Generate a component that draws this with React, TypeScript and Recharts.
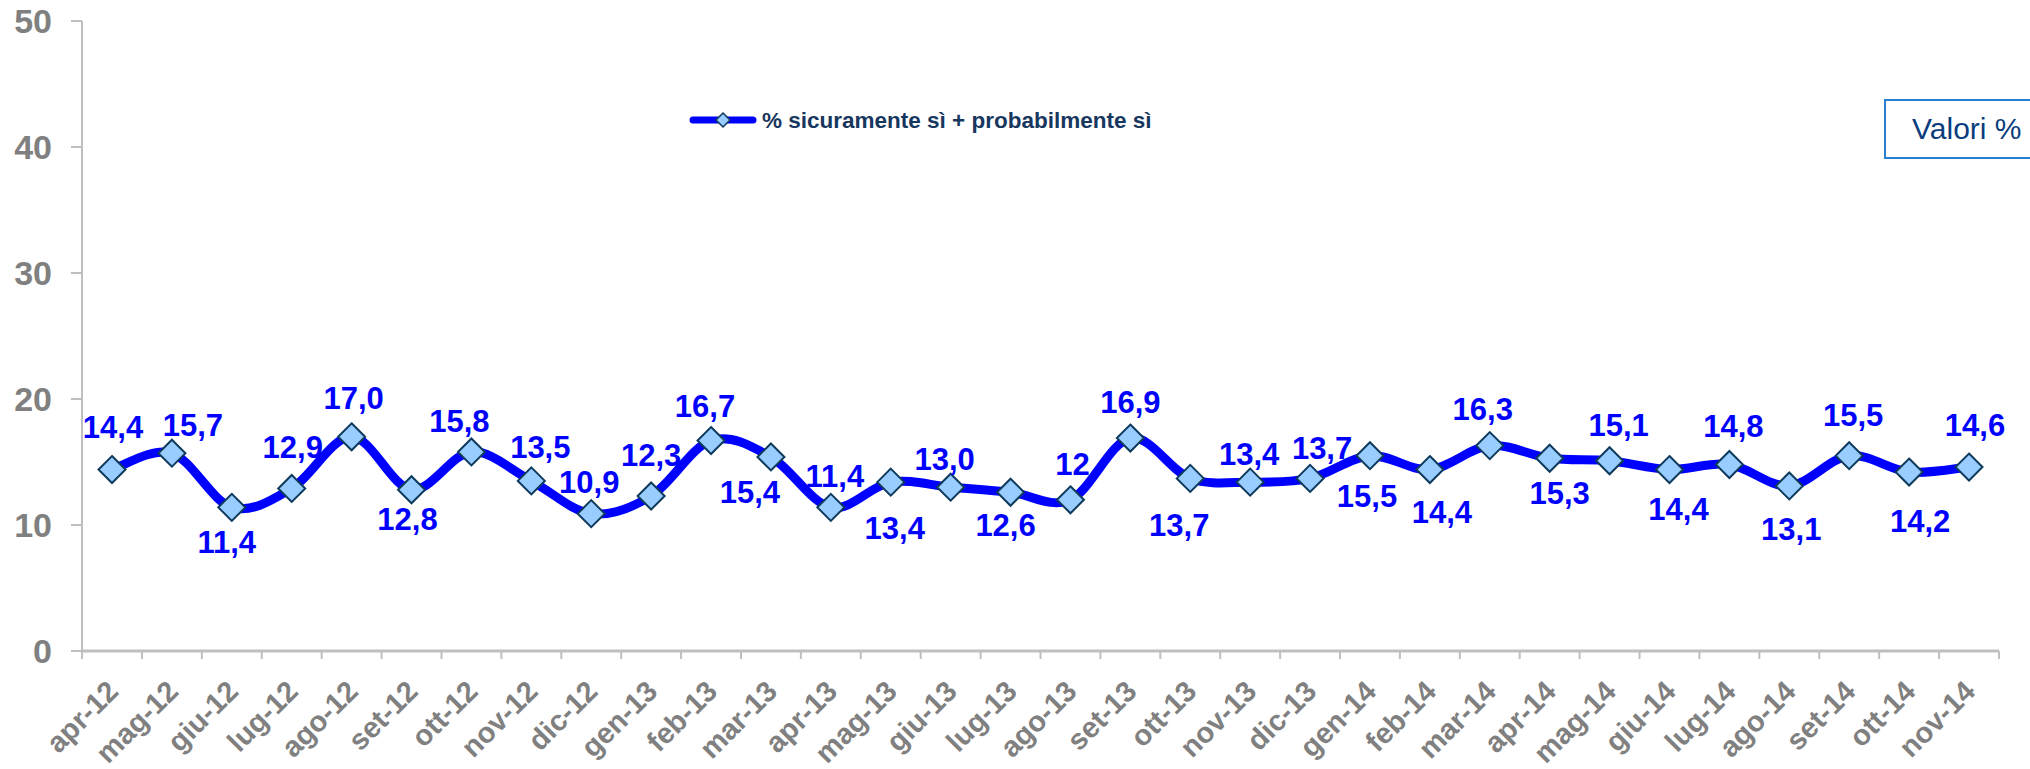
import React from 'react';
import { LineChart, Line, XAxis, YAxis, Legend, LabelList } from 'recharts';

const MONTHS = [
  'apr-12', 'mag-12', 'giu-12', 'lug-12', 'ago-12', 'set-12', 'ott-12', 'nov-12', 'dic-12',
  'gen-13', 'feb-13', 'mar-13', 'apr-13', 'mag-13', 'giu-13', 'lug-13', 'ago-13', 'set-13',
  'ott-13', 'nov-13', 'dic-13', 'gen-14', 'feb-14', 'mar-14', 'apr-14', 'mag-14', 'giu-14',
  'lug-14', 'ago-14', 'set-14', 'ott-14', 'nov-14',
];

const VALUES = [
  14.4, 15.7, 11.4, 12.9, 17.0, 12.8, 15.8, 13.5, 10.9,
  12.3, 16.7, 15.4, 11.4, 13.4, 13.0, 12.6, 12, 16.9,
  13.7, 13.4, 13.7, 15.5, 14.4, 16.3, 15.3, 15.1, 14.4,
  14.8, 13.1, 15.5, 14.2, 14.6,
];

const LABELS = [
  '14,4', '15,7', '11,4', '12,9', '17,0', '12,8', '15,8', '13,5', '10,9',
  '12,3', '16,7', '15,4', '11,4', '13,4', '13,0', '12,6', '12', '16,9',
  '13,7', '13,4', '13,7', '15,5', '14,4', '16,3', '15,3', '15,1', '14,4',
  '14,8', '13,1', '15,5', '14,2', '14,6',
];

const Y_TICKS = [0, 10, 20, 30, 40, 50];

const SERIES_NAME = '% sicuramente sì + probabilmente sì';

// label placement relative to each marker (baseline offset), like the hand-moved Excel labels
const LABEL_DX = [
  1, 21, -5, 1, 2, -4, -12, 9, -2,
  0, -6, -21, 4, 4, -6, -5, 2, 0,
  -11, -1, 12, -3, 12, -7, 10, 9, 9,
  4, 2, 4, 11, 6,
];
const LABEL_DY = [
  -32, -17, 46, -30, -28, 40, -20, -23, -21,
  -30, -24, 46, -20, 57, -17, 44, -25, -25,
  58, -17, -19, 51, 53, -26, 46, -25, 50,
  -28, 54, -30, 60, -31,
];

const data = MONTHS.map((m, i) => ({ month: m, value: VALUES[i], label: LABELS[i] }));

const FONT = '"Liberation Sans", Arial, sans-serif';
const AXIS_GREY = '#bfbfbf';
const TEXT_GREY = '#808080';
const LINE_BLUE = '#0000ff';

// Excel-style smoothed line (cardinal spline, control points at 1/6 of the neighbour chord)
function excelSmooth(context: any) {
  let pts: [number, number][] = [];
  return {
    areaStart() {},
    areaEnd() {},
    lineStart() {
      pts = [];
    },
    point(x: number, y: number) {
      pts.push([+x, +y]);
    },
    lineEnd() {
      const n = pts.length;
      if (!n) return;
      context.moveTo(pts[0][0], pts[0][1]);
      for (let i = 0; i < n - 1; i++) {
        const p0 = pts[Math.max(i - 1, 0)];
        const p1 = pts[i];
        const p2 = pts[i + 1];
        const p3 = pts[Math.min(i + 2, n - 1)];
        context.bezierCurveTo(
          p1[0] + (p2[0] - p0[0]) / 6,
          p1[1] + (p2[1] - p0[1]) / 6,
          p2[0] - (p3[0] - p1[0]) / 6,
          p2[1] - (p3[1] - p1[1]) / 6,
          p2[0],
          p2[1],
        );
      }
    },
  };
}

function diamond(cx: number, cy: number, r: number) {
  return `M${cx},${cy - r}L${cx + r},${cy}L${cx},${cy + r}L${cx - r},${cy}Z`;
}

function DiamondDot(props: any) {
  const { cx, cy } = props;
  if (cx == null || cy == null) return null;
  return <path d={diamond(cx, cy, 13.5)} fill="#99ccff" stroke="#0e3a5c" strokeWidth={2} />;
}

function ValueLabel(props: any) {
  const { x, y, index } = props;
  if (x == null || y == null) return null;
  return (
    <text
      x={x + (LABEL_DX[index] ?? 0)}
      y={y + (LABEL_DY[index] ?? -30)}
      textAnchor="middle"
      fontSize={31}
      fontWeight={700}
      fontFamily={FONT}
      fill={LINE_BLUE}
    >
      {LABELS[index]}
    </text>
  );
}

// Month tick: rotated label at the category centre, tick marks on the category boundaries.
function MonthTick(props: any) {
  const { x, y, payload, index, visibleTicksCount, width } = props;
  const half = (Number(width) || 1917) / (2 * visibleTicksCount);
  const last = index === visibleTicksCount - 1;
  return (
    <g>
      <line x1={x - half} y1={y} x2={x - half} y2={y + 8} stroke={AXIS_GREY} strokeWidth={2} />
      {last && <line x1={x + half} y1={y} x2={x + half} y2={y + 8} stroke={AXIS_GREY} strokeWidth={2} />}
      <text
        transform={`translate(${x + 8},${y + 42}) rotate(-45)`}
        textAnchor="end"
        fontSize={29}
        fontWeight={700}
        fontFamily={FONT}
        fill={TEXT_GREY}
      >
        {payload.value}
      </text>
    </g>
  );
}

function LegendContent() {
  return (
    <svg width={500} height={30} style={{ display: 'block' }}>
      <line x1={8} y1={15} x2={68} y2={15} stroke={LINE_BLUE} strokeWidth={7} strokeLinecap="round" />
      <path d={diamond(38, 15, 7)} fill="#99ccff" stroke="#0e3a5c" strokeWidth={1.5} />
      <text x={77} y={23} fontSize={22.5} fontWeight={700} fontFamily={FONT} fill="#17375e">
        {SERIES_NAME}
      </text>
    </svg>
  );
}

export default function App() {
  return (
    <div
      style={{
        position: 'absolute',
        left: 0,
        top: 0,
        width: 2030,
        height: 769,
        background: '#fff',
        overflow: 'hidden',
        fontFamily: FONT,
      }}
    >
      <LineChart width={2030} height={769} data={data} margin={{ top: 21, right: 31, bottom: 0, left: 0 }}>
        <XAxis
          dataKey="month"
          height={118}
          interval={0}
          padding={{ left: 30, right: 30 }}
          tickSize={0}
          tickMargin={0}
          tickLine={false}
          axisLine={{ stroke: AXIS_GREY, strokeWidth: 3 }}
          tick={<MonthTick />}
        />
        <YAxis
          domain={[0, 50]}
          ticks={Y_TICKS}
          width={82}
          tickSize={11}
          tickMargin={19}
          axisLine={{ stroke: AXIS_GREY, strokeWidth: 2 }}
          tickLine={{ stroke: AXIS_GREY, strokeWidth: 2 }}
          tick={{ fontSize: 34, fontWeight: 700, fill: TEXT_GREY, fontFamily: FONT }}
        />
        <Legend
          layout="horizontal"
          align="center"
          verticalAlign="middle"
          content={<LegendContent />}
          wrapperStyle={{ position: 'absolute', left: 685, top: 105, width: 500 }}
        />
        <Line
          dataKey="value"
          name={SERIES_NAME}
          type={excelSmooth as any}
          stroke={LINE_BLUE}
          strokeWidth={9}
          dot={<DiamondDot />}
          activeDot={false}
          isAnimationActive={false}
        >
          <LabelList dataKey="label" content={<ValueLabel />} />
        </Line>
      </LineChart>
      <div
        style={{
          position: 'absolute',
          left: 1884,
          top: 99,
          width: 170,
          height: 60,
          boxSizing: 'border-box',
          border: '2px solid #2a7ed2',
          paddingLeft: 26,
          lineHeight: '56px',
          fontSize: 30,
          color: '#0b3d7e',
          background: '#fff',
        }}
      >
        Valori %
      </div>
    </div>
  );
}
